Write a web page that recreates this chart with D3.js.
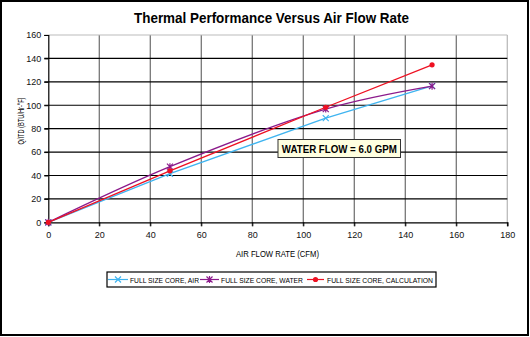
<!DOCTYPE html>
<html>
<head>
<meta charset="utf-8">
<script src="https://cdn.jsdelivr.net/npm/d3@7"></script>
<style>
  body { margin: 0; background: #fff; }
  text { font-family: Arial, "Liberation Sans", sans-serif; }
</style>
</head>
<body>
<script>
// values
var airFlow = [0, 47.7, 108.8, 150.5];
var airSeries = [0, 41.5, 89, 116.5];
var waterSeries = [0, 47.5, 96.7, 116.3];
var calcSeries = [0, 44, 98.3, 134.5];
var xTicks = [0, 20, 40, 60, 80, 100, 120, 140, 160, 180];
var yTicks = [0, 20, 40, 60, 80, 100, 120, 140, 160];
var seriesNames = ["FULL SIZE CORE, AIR", "FULL SIZE CORE, WATER", "FULL SIZE CORE, CALCULATION"];

var width = 530, height = 337;

var svg = d3.select("body").append("svg")
    .attr("width", width)
    .attr("height", height);

// outer frame
svg.append("rect")
    .attr("x", 1).attr("y", 1)
    .attr("width", width - 3).attr("height", height - 3)
    .attr("fill", "#fff")
    .attr("stroke", "#000")
    .attr("stroke-width", 2);

var x = d3.scaleLinear().domain([0, 180]).range([48.3, 507.3]);
var y = d3.scaleLinear().domain([0, 160]).range([222.3, 35]);

// gridlines
svg.selectAll(".vgrid")
    .data(xTicks.slice(1))
    .enter().append("line")
    .attr("class", "vgrid")
    .attr("x1", function(d){ return x(d); })
    .attr("x2", function(d){ return x(d); })
    .attr("y1", y(160))
    .attr("y2", y(0) + 4)
    .attr("stroke", function(d){ return d === 180 ? "#bbb" : "#777"; })
    .attr("stroke-width", 1.3);

svg.selectAll(".hgrid")
    .data(yTicks.slice(1))
    .enter().append("line")
    .attr("class", "hgrid")
    .attr("x1", x(0) - 4)
    .attr("x2", x(180))
    .attr("y1", function(d){ return y(d); })
    .attr("y2", function(d){ return y(d); })
    .attr("stroke", function(d){ return d === 160 ? "#bbb" : "#000"; })
    .attr("stroke-width", 1.2);

// axes
var xAxis = svg.append("g")
    .attr("transform", "translate(0," + y(0) + ")")
    .call(d3.axisBottom(x).tickValues(xTicks).tickSize(4).tickPadding(4));
var yAxis = svg.append("g")
    .attr("transform", "translate(" + x(0) + ",0)")
    .call(d3.axisLeft(y).tickValues(yTicks).tickSize(4).tickPadding(3));

[xAxis, yAxis].forEach(function(a){
    a.select(".domain").attr("stroke", "#000").attr("stroke-width", 1.2);
    a.selectAll(".tick line").attr("stroke", "#000");
    a.selectAll(".tick text")
        .attr("font-size", 9)
        .attr("fill", "#111")
        .attr("font-family", "Arial, 'Liberation Sans', sans-serif");
});
xAxis.selectAll(".tick text").attr("dy", "0.9em");

// titles
svg.append("text")
    .attr("x", 271.5).attr("y", 23)
    .attr("text-anchor", "middle")
    .attr("font-size", 14)
    .attr("font-weight", "bold")
    .attr("textLength", 275)
    .attr("lengthAdjust", "spacingAndGlyphs")
    .text("Thermal Performance Versus Air Flow Rate");

svg.append("text")
    .attr("x", 277.5).attr("y", 257)
    .attr("text-anchor", "middle")
    .attr("font-size", 9)
    .attr("textLength", 83)
    .attr("lengthAdjust", "spacingAndGlyphs")
    .text("AIR FLOW RATE (CFM)");

svg.append("text")
    .attr("transform", "translate(24,121) rotate(-90)")
    .attr("text-anchor", "middle")
    .attr("font-size", 9)
    .attr("textLength", 47)
    .attr("lengthAdjust", "spacingAndGlyphs")
    .text("Q/ITD (BTU/Hr-°F)");

// series
var series = [
    { name: seriesNames[0], values: airSeries, color: "#3fb4f0", marker: "x", curve: d3.curveLinear },
    { name: seriesNames[1], values: waterSeries, color: "#8b1a8b", marker: "star", curve: d3.curveCatmullRom },
    { name: seriesNames[2], values: calcSeries, color: "#ee1122", marker: "dot", curve: d3.curveLinear }
];

function drawMarker(g, type, cx, cy, color) {
    if (type === "dot") {
        g.append("circle").attr("cx", cx).attr("cy", cy).attr("r", 2.6).attr("fill", color);
    } else {
        var s = 3;
        g.append("path")
            .attr("d", "M" + (cx - s) + "," + (cy - s) + "L" + (cx + s) + "," + (cy + s) +
                       "M" + (cx - s) + "," + (cy + s) + "L" + (cx + s) + "," + (cy - s) +
                       (type === "star" ? "M" + cx + "," + (cy - s - 0.5) + "L" + cx + "," + (cy + s + 0.5) : ""))
            .attr("stroke", color)
            .attr("stroke-width", 1.2)
            .attr("fill", "none");
    }
}

series.forEach(function(s){
    var line = d3.line()
        .x(function(d, i){ return x(airFlow[i]); })
        .y(function(d){ return y(d); })
        .curve(s.curve);
    svg.append("path")
        .datum(s.values)
        .attr("d", line)
        .attr("fill", "none")
        .attr("stroke", s.color)
        .attr("stroke-width", 1.3);
    var g = svg.append("g");
    s.values.forEach(function(v, i){
        drawMarker(g, s.marker, x(airFlow[i]), y(v), s.color);
    });
});

// annotation
svg.append("rect")
    .attr("x", 278).attr("y", 139.5)
    .attr("width", 122.5).attr("height", 18)
    .attr("fill", "#ffffe0")
    .attr("stroke", "#333")
    .attr("stroke-width", 1);
svg.append("text")
    .attr("x", 339.3).attr("y", 153)
    .attr("text-anchor", "middle")
    .attr("font-size", 11.5)
    .attr("font-weight", "bold")
    .attr("textLength", 115)
    .attr("lengthAdjust", "spacingAndGlyphs")
    .text("WATER FLOW = 6.0 GPM");

// legend
svg.append("rect")
    .attr("x", 107).attr("y", 272)
    .attr("width", 329).attr("height", 15)
    .attr("fill", "#fff")
    .attr("stroke", "#000")
    .attr("stroke-width", 1.2);

var legendPos = [
    { x0: 108, x1: 128, tx: 130, tw: 69 },
    { x0: 200, x1: 219, tx: 221, tw: 82 },
    { x0: 307, x1: 324, tx: 327, tw: 106 }
];
series.forEach(function(s, i){
    var p = legendPos[i], ly = 279.5;
    svg.append("line")
        .attr("x1", p.x0).attr("x2", p.x1)
        .attr("y1", ly).attr("y2", ly)
        .attr("stroke", s.color).attr("stroke-width", 1.2);
    drawMarker(svg.append("g"), s.marker, (p.x0 + p.x1) / 2, ly, s.color);
    svg.append("text")
        .attr("x", p.tx).attr("y", ly + 3)
        .attr("font-size", 8)
        .attr("textLength", p.tw)
        .attr("lengthAdjust", "spacingAndGlyphs")
        .text(s.name);
});
</script>
</body>
</html>
